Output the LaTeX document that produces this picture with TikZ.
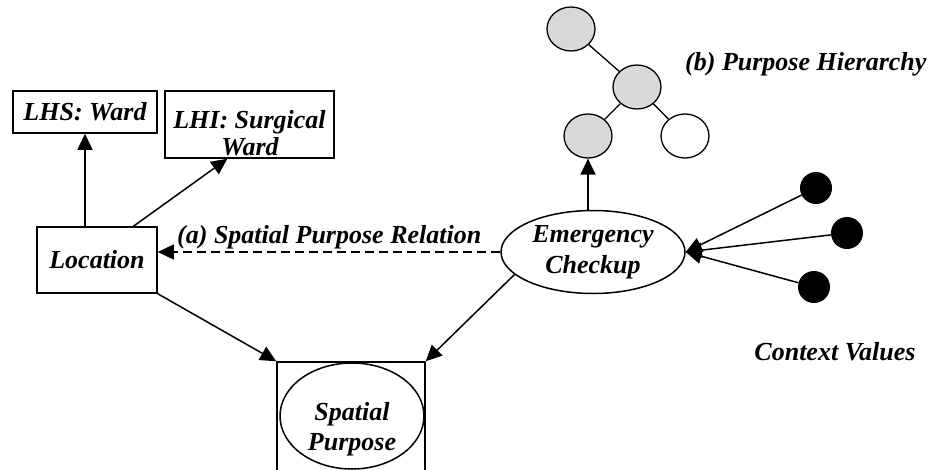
\documentclass[tikz,border=0pt]{standalone}
\usepackage{fontspec}
\setmainfont{Liberation Serif}
\usetikzlibrary{shapes.geometric,arrows.meta,calc}
\definecolor{treegray}{HTML}{D9D9D9}
\begin{document}
\begin{tikzpicture}[x=1pt,y=-1pt,
  lw/.style={line width=1.5pt},
  txt/.style={font=\fontsize{26}{31}\selectfont\bfseries\itshape, align=center, inner sep=0pt},
  box/.style={draw, lw, rectangle, inner sep=0pt},
  ell/.style={draw, lw, ellipse, inner sep=0pt},
  arr/.style={lw, -{Triangle[length=16pt,width=15pt]}},
  treenode/.style={draw, line width=1.3pt, ellipse, minimum width=48pt, minimum height=44pt, inner sep=0pt},
  ctxdot/.style={circle, fill=black, minimum size=32pt, inner sep=0pt},
]
\path[use as bounding box] (0,0) rectangle (935,469);
\clip (0,0) rectangle (935,469);

% left boxes
\node[box, txt, minimum width=144pt, minimum height=42pt] (lhs) at (85,112) {LHS: Ward};
\node[box, minimum width=169pt, minimum height=67pt] (lhi) at (249.5,124.5) {};
\node[txt, anchor=base] (lhit1) at (249.5,128) {LHI: Surgical};
\node[txt, anchor=base] (lhit2) at (250,155) {Ward};
\node[box, txt, minimum width=120pt, minimum height=66pt] (loc) at (97,260) {Location};

% emergency checkup
\node[ell, txt, minimum width=184pt, minimum height=83pt] (em) at (593,252) {Emergency\\Checkup};

% purpose hierarchy
\node[treenode, fill=treegray] (c1) at (571,29) {};
\node[treenode, fill=treegray] (c2) at (637,87) {};
\node[treenode, fill=treegray] (c3) at (588,136) {};
\node[treenode, fill=white] (c4) at (685,136) {};
\draw[line width=1.3pt] (c1) -- (c2) (c2) -- (c3) (c2) -- (c4);
\node[txt, anchor=base west] (ph) at (685,70) {(b) Purpose Hierarchy};

% context values
\node[ctxdot] (d1) at (816,188) {};
\node[ctxdot] (d2) at (847,233) {};
\node[ctxdot] (d3) at (814,287) {};
\node[txt, anchor=base] (cv) at (835,360) {Context Values};

% spatial purpose
\node[box, minimum width=148pt, minimum height=140pt] (sp) at (351,432) {};
\node[ell, minimum width=144pt, minimum height=106pt] (spe) at (352,416) {};
\node[txt, anchor=base] (spt1) at (352,420) {Spatial};
\node[txt, anchor=base] (spt2) at (352,450) {Purpose};

% relation label
\node[txt, anchor=base west] (rel) at (177,243) {(a) Spatial Purpose Relation};

% connectors
\draw[arr] (loc.north -| lhs.south) -- (lhs.south);
\draw[arr] ($(loc.north west)!0.8!(loc.north east)$) -- ($(lhi.south west)!0.37!(lhi.south east)$);
\draw[arr, dash pattern=on 9pt off 5pt] (em.west) -- (em.west -| loc.east);
\draw[arr] (em.north -| c3.south) -- (c3.south);
\draw[arr] (loc.south east) -- (sp.north west);
\draw[arr] (em.196) -- (sp.north east);
\draw[arr] (d1) -- (em.east);
\draw[arr] (d2) -- (em.east);
\draw[arr] (d3) -- (em.east);
\end{tikzpicture}
\end{document}
